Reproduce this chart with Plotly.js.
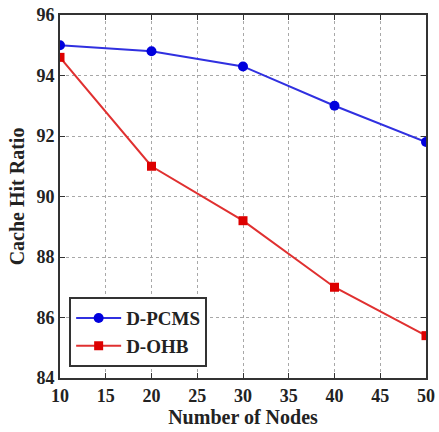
<!DOCTYPE html>
<html><head><meta charset="utf-8">
<script src="https://cdn.plot.ly/plotly-3.0.1.min.js"></script>
<style>html,body{margin:0;padding:0;background:#fff}#c{width:439px;height:432px}</style>
</head><body><div id="c"></div>
<script>
const nodes = [10, 20, 30, 40, 50];
const dpcms = [95.0, 94.8, 94.3, 93.0, 91.8];
const dohb = [94.6, 91.0, 89.2, 87.0, 85.4];
const xTicks = [10, 15, 20, 25, 30, 35, 40, 45, 50];
const yTicks = [84, 86, 88, 90, 92, 94, 96];

const fam = 'Liberation Serif, Times New Roman, serif';
const axisCommon = {
  showline: true, linecolor: '#333', linewidth: 2, mirror: 'ticks',
  ticks: 'inside', ticklen: 5, tickcolor: '#333',
  showgrid: true, gridcolor: '#a8a8a8', griddash: 'dot', gridwidth: 1,
  zeroline: false, tickfont: {family: fam, size: 18, color: '#222', weight: 'bold'}
};
const data = [
  {x: nodes, y: dpcms, name: 'D-PCMS', mode: 'lines+markers',
   line: {color: '#3030e0', width: 2}, marker: {symbol: 'circle', size: 10, color: '#0000dd'}},
  {x: nodes, y: dohb, name: 'D-OHB', mode: 'lines+markers',
   line: {color: '#e03030', width: 2}, marker: {symbol: 'square', size: 9, color: '#dd0000'}}
];
const layout = {
  width: 439, height: 432,
  margin: {l: 60, r: 13, t: 15, b: 54},
  paper_bgcolor: '#fff', plot_bgcolor: '#fff',
  font: {family: fam, size: 16, color: '#222'},
  xaxis: Object.assign({}, axisCommon, {range: [10, 50], tickvals: xTicks,
    title: {text: 'Number of Nodes', font: {family: fam, size: 20, color: '#222', weight: 'bold'}, standoff: 4}}),
  yaxis: Object.assign({}, axisCommon, {range: [84, 96], tickvals: yTicks,
    title: {text: 'Cache Hit Ratio', font: {family: fam, size: 20, color: '#222', weight: 'bold'}, standoff: 6}}),
  legend: {x: 0.025, y: 0.03, xanchor: 'left', yanchor: 'bottom',
    bgcolor: '#fff', bordercolor: '#333', borderwidth: 2, itemwidth: 45,
    font: {family: fam, size: 19, color: '#222', weight: 'bold'}},
  showlegend: true
};
Plotly.newPlot('c', data, layout, {displayModeBar: false});
</script></body></html>
